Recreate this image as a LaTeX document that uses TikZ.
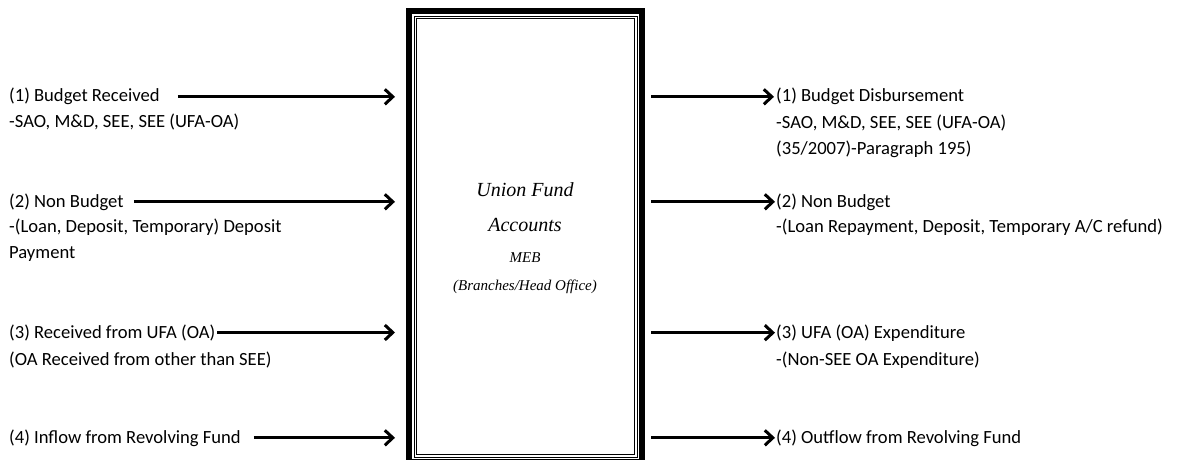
\documentclass[tikz,border=0pt]{standalone}
\usepackage{fontspec}
\setmainfont{Carlito}
\newfontfamily\boxfont{Liberation Serif}
\usepackage{tikz}
\usetikzlibrary{arrows.meta}
\tikzstyle{flowtxt}=[anchor=base west,inner sep=0pt,align=left,font=\fontsize{18.6}{26}\selectfont]
\tikzstyle{flowarrow}=[line width=3pt,-{Straight Barb[length=8pt,width=15pt]}]
\tikzstyle{fundbox}=[draw,line width=6pt,minimum width=233pt,minimum height=451pt,inner sep=0pt]
\tikzstyle{boxtitle}=[anchor=base,inner sep=0pt,align=center,font=\boxfont\itshape\fontsize{20}{35}\selectfont]
\tikzstyle{boxsub}=[anchor=base,inner sep=0pt,align=center,font=\boxfont\itshape\fontsize{15}{28}\selectfont]

\begin{document}
\begin{tikzpicture}[x=1pt,y=-1pt]
    \useasboundingbox (0,0) rectangle (1179,460);

    % the accounts box, cut off at the bottom
    \node[fundbox] (box) at (525.5,236.5) {};
    \draw[line width=0.9pt] ([shift={(8,8)}]box.north west) rectangle ([shift={(-8,-8)}]box.south east);
    \draw[line width=0.9pt] ([shift={(10.5,10.5)}]box.north west) rectangle ([shift={(-10.5,-10.5)}]box.south east);
    % base anchor of a two line node sits on its last line
    \node[boxtitle] (title) at (525,231) {Union Fund\\Accounts};
    \node[boxsub] (branch) at (525,290) {MEB\\(Branches/Head Office)};

    % inflows
    \node[flowtxt] (in1)    at (9,102) {(1) Budget Received};
    \node[flowtxt] (in1sub) at (9,128) {-SAO, M\&D, SEE, SEE (UFA-OA)};
    \node[flowtxt] (in2)    at (9,207) {(2) Non Budget};
    \node[flowtxt] (in2sub) at (9,258) {-(Loan, Deposit, Temporary) Deposit\\Payment};
    \node[flowtxt] (in3)    at (9,338) {(3) Received from UFA (OA)};
    \node[flowtxt] (in3sub) at (9,365) {(OA Received from other than SEE)};
    \node[flowtxt] (in4)    at (9,443) {(4) Inflow from Revolving Fund};

    \draw[flowarrow,shorten <=18pt,shorten >=11pt] (in1.east) -- (box.west |- in1.east);
    \draw[flowarrow,shorten <=10pt,shorten >=11pt] (in2.east) -- (box.west |- in2.east);
    \draw[flowarrow,shorten <=2pt,shorten >=11pt]  (in3.east) -- (box.west |- in3.east);
    \draw[flowarrow,shorten <=13pt,shorten >=11pt] (in4.east) -- (box.west |- in4.east);

    % outflows
    \node[flowtxt] (out1)    at (776,102) {(1) Budget Disbursement};
    \node[flowtxt] (out1sub) at (776,154) {-SAO, M\&D, SEE, SEE (UFA-OA)\\(35/2007)-Paragraph 195)};
    \node[flowtxt] (out2)    at (776,207) {(2) Non Budget};
    \node[flowtxt] (out2sub) at (776,232) {-(Loan Repayment, Deposit, Temporary A/C refund)};
    \node[flowtxt] (out3)    at (776,338) {(3) UFA (OA) Expenditure};
    \node[flowtxt] (out3sub) at (776,365) {-(Non-SEE OA Expenditure)};
    \node[flowtxt] (out4)    at (776,443) {(4) Outflow from Revolving Fund};

    \draw[flowarrow,shorten <=6pt,shorten >=2pt] (box.east |- out1.west) -- (out1.west);
    \draw[flowarrow,shorten <=6pt,shorten >=1pt] (box.east |- out2.west) -- (out2.west);
    \draw[flowarrow,shorten <=6pt,shorten >=1pt] (box.east |- out3.west) -- (out3.west);
    \draw[flowarrow,shorten <=6pt,shorten >=1pt] (box.east |- out4.west) -- (out4.west);
\end{tikzpicture}
\end{document}
